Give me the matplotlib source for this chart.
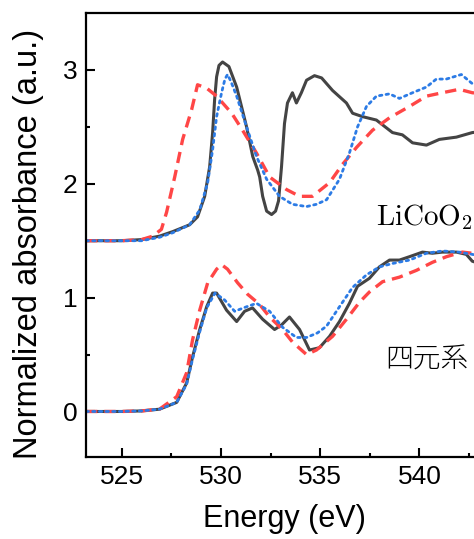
import numpy as np
import matplotlib
matplotlib.use('Agg')
import matplotlib.pyplot as plt

plt.rcParams['font.family'] = ['Liberation Sans', 'DejaVu Sans']
plt.rcParams['mathtext.fontset'] = 'cm'

# LiCoO2 spectra (plotted with +1.5 offset)
e_lco_black = [523.2, 525.0, 526.0, 526.9, 527.57, 528.42, 528.82, 529.18, 529.43, 529.58,
               529.68, 529.78, 529.9, 530.08, 530.4, 530.79, 531.29, 531.6, 531.85, 531.95,
               532.1, 532.3, 532.55, 532.75, 532.9, 533.05, 533.2, 533.35, 533.6, 533.8,
               534.05, 534.31, 534.71, 535.07, 535.62, 536.32, 536.63, 537.13, 537.83, 538.64,
               539.14, 539.65, 540.35, 541.0, 541.86, 542.66, 543.2]
a_lco_black = [1.50, 1.50, 1.51, 1.54, 1.58, 1.64, 1.71, 1.89, 2.15, 2.45,
               2.74, 2.94, 3.04, 3.07, 3.03, 2.85, 2.50, 2.24, 2.12, 2.06,
               1.89, 1.76, 1.73, 1.76, 1.85, 2.15, 2.53, 2.71, 2.80, 2.71,
               2.80, 2.91, 2.95, 2.93, 2.82, 2.71, 2.62, 2.59, 2.56, 2.45,
               2.43, 2.36, 2.34, 2.39, 2.41, 2.45, 2.46]

e_lco_red = [523.2, 525.0, 526.0, 526.56, 527.0, 527.26, 527.67, 528.07, 528.52, 528.82,
             529.28, 529.78, 530.54, 531.09, 531.79, 532.45, 533.3, 533.96, 534.61, 535.47,
             536.12, 536.83, 537.63, 538.49, 539.5, 540.35, 541.15, 542.0, 542.66, 543.2]
a_lco_red = [1.50, 1.50, 1.51, 1.54, 1.60, 1.75, 2.06, 2.39, 2.65, 2.87,
             2.84, 2.77, 2.62, 2.47, 2.27, 2.06, 1.95, 1.89, 1.89, 2.01,
             2.17, 2.32, 2.47, 2.58, 2.68, 2.77, 2.80, 2.83, 2.80, 2.79]

e_lco_blue = [523.2, 525.0, 526.0, 526.9, 527.57, 528.42, 528.93, 529.33, 529.58, 529.78,
              530.03, 530.2, 530.33, 530.5, 530.79, 531.29, 531.79, 532.3, 532.95, 533.6,
              534.31, 534.81, 535.32, 535.97, 536.47, 536.88, 537.33, 537.83, 538.49, 538.99,
              539.65, 540.35, 540.85, 541.35, 542.11, 542.66, 543.2]
a_lco_blue = [1.50, 1.50, 1.50, 1.53, 1.57, 1.64, 1.77, 2.01, 2.30, 2.59,
              2.80, 2.92, 2.96, 2.90, 2.77, 2.50, 2.24, 2.04, 1.89, 1.82,
              1.80, 1.82, 1.86, 2.04, 2.27, 2.50, 2.68, 2.77, 2.79, 2.75,
              2.80, 2.85, 2.92, 2.92, 2.96, 2.88, 2.86]

# quaternary system spectra
e_q_black = [523.2, 525.0, 526.0, 526.9, 527.77, 528.27, 528.57, 528.93, 529.28, 529.58,
             529.78, 530.28, 530.79, 531.19, 531.59, 532.1, 532.7, 533.05, 533.45, 533.96,
             534.46, 534.96, 535.47, 535.97, 536.47, 536.88, 537.48, 537.98, 538.49, 538.99,
             539.5, 540.15, 540.65, 541.15, 541.86, 542.36, 542.66, 543.2]
a_q_black = [0.0, 0.0, 0.005, 0.02, 0.08, 0.25, 0.48, 0.72, 0.92, 1.04,
             1.04, 0.89, 0.79, 0.88, 0.91, 0.81, 0.72, 0.76, 0.83, 0.72,
             0.54, 0.56, 0.66, 0.79, 0.95, 1.10, 1.17, 1.27, 1.33, 1.33,
             1.36, 1.40, 1.39, 1.40, 1.40, 1.38, 1.32, 1.29]

e_q_red = [523.2, 525.0, 526.0, 526.9, 527.77, 528.27, 528.57, 528.93, 529.33, 529.78,
           530.03, 530.33, 530.84, 531.34, 531.95, 532.45, 533.1, 533.6, 534.31, 534.81,
           535.62, 536.32, 536.98, 537.48, 538.14, 538.99, 539.85, 540.65, 541.36, 542.16,
           542.66, 543.2]
a_q_red = [0.0, 0.0, 0.005, 0.02, 0.13, 0.34, 0.63, 0.89, 1.13, 1.25,
           1.29, 1.25, 1.13, 1.03, 0.94, 0.83, 0.72, 0.61, 0.50, 0.54,
           0.66, 0.81, 0.96, 1.05, 1.14, 1.18, 1.24, 1.31, 1.36, 1.40,
           1.39, 1.37]

e_q_blue = [523.2, 525.0, 526.0, 526.9, 527.77, 528.27, 528.57, 528.93, 529.28, 529.7,
            530.18, 530.69, 531.29, 531.79, 532.45, 533.1, 533.8, 534.31, 534.86, 535.32,
            535.97, 536.63, 537.33, 537.98, 538.64, 539.5, 540.35, 541.15, 542.0, 542.66,
            543.2]
a_q_blue = [0.0, 0.0, 0.005, 0.02, 0.08, 0.24, 0.46, 0.70, 0.91, 1.04,
            0.98, 0.88, 0.92, 0.95, 0.88, 0.74, 0.65, 0.65, 0.69, 0.75,
            0.92, 1.09, 1.20, 1.27, 1.30, 1.33, 1.39, 1.41, 1.40, 1.38,
            1.36]

black = '#444444'
red = '#ff4646'
blue = '#2c7be5'

fig = plt.figure(figsize=(4.74, 5.39), dpi=100)
ax = fig.add_axes([0.1814, 0.1521, 0.8376, 0.8237])

for e, a in [(e_lco_black, a_lco_black), (e_q_black, a_q_black)]:
    ax.plot(e, a, color=black, lw=2.2, solid_joinstyle='round')
for e, a in [(e_lco_red, a_lco_red), (e_q_red, a_q_red)]:
    ax.plot(e, a, color=red, lw=2.4, dashes=(3.4, 2.1))
for e, a in [(e_lco_blue, a_lco_blue), (e_q_blue, a_q_blue)]:
    ax.plot(e, a, color=blue, lw=2.0, dashes=(0.9, 1.5), dash_capstyle='round')

ax.set_xlim(523.2, 543.2)
ax.set_ylim(-0.4, 3.5)
ax.set_xticks([525, 530, 535, 540])
ax.set_xticks([527.5, 532.5, 537.5, 542.5], minor=True)
ax.set_yticks([0, 1, 2, 3])
ax.set_yticks([0.5, 1.5, 2.5], minor=True)
ax.tick_params(which='both', direction='in', width=1.5, labelsize=19, pad=6,
               top=False, right=False)
ax.tick_params(which='major', length=6.5)
ax.tick_params(which='minor', length=3)
for s in ax.spines.values():
    s.set_linewidth(1.6)

ax.set_xlabel('Energy (eV)', fontsize=22)
ax.set_ylabel('Normalized absorbance (a.u.)', fontsize=23.5)
ax.xaxis.set_label_coords(0.5, -0.105)
ax.yaxis.set_label_coords(-0.105, 0.48)

ax.text(537.8, 1.64, r'$\mathrm{LiCoO}_2$', fontsize=21, va='baseline', ha='left')
ax.text(538.3, 0.46, '四元系', fontsize=20, va='center', ha='left',
        family=['Noto Sans CJK JP', 'DejaVu Sans'], fontweight='light')

fig.savefig('out.png', dpi=100)
